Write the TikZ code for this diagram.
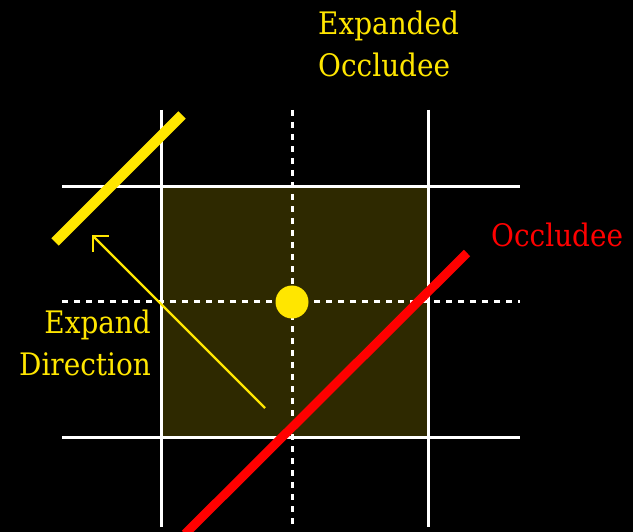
\documentclass[tikz,border=0pt]{standalone}
\usepackage{fontspec}
\setmainfont{DejaVu Serif Condensed}
\usetikzlibrary{arrows.meta}
\definecolor{ylw}{HTML}{FFE600}
\definecolor{olive}{HTML}{2E2900}
\definecolor{rd}{HTML}{FF0000}
\tikzset{
  grid/.style={draw=white,line width=3pt},
  dgrid/.style={draw=white,line width=3pt,dash pattern=on 6pt off 6pt},
  lbl/.style={font=\fontsize{31}{42}\selectfont,inner sep=0pt},
}
\begin{document}
\begin{tikzpicture}[x=1pt,y=-1pt]
\fill[black] (0,0) rectangle (633,532);
\useasboundingbox (0,0) rectangle (633,532);
\fill[olive] (161,187) rectangle (428,437);
\draw[grid] (161,110) -- (161,527);
\draw[grid] (428,110) -- (428,527);
\draw[grid] (62,187) -- (520,187);
\draw[grid] (62,437) -- (520,437);
\draw[dgrid] (292,110) -- (292,527);
\draw[dgrid] (62,302) -- (520,302);
\node[circle,fill=ylw,minimum size=33pt,inner sep=0pt] (c) at (292,302) {};
\draw[ylw,line width=10.5pt] (55,242) -- (182,115);
\draw[rd,line width=9pt] (185,534) -- (467,253);
\coordinate (tail) at (265,408);
\coordinate (tip) at (92,235);
\draw[ylw,line width=2.4pt,-{Straight Barb[length=11pt,width=22pt,line width=2.4pt]}] (tail) -- (tip);
\node[lbl,text=ylw,anchor=base west,align=left] (eo) at (318,77) {Expanded\\Occludee};
\node[lbl,text=rd,anchor=base west] (oc) at (491,247) {Occludee};
\node[lbl,text=ylw,anchor=base east,align=right] (ed) at (151,375) {Expand\\Direction};
\end{tikzpicture}
\end{document}
